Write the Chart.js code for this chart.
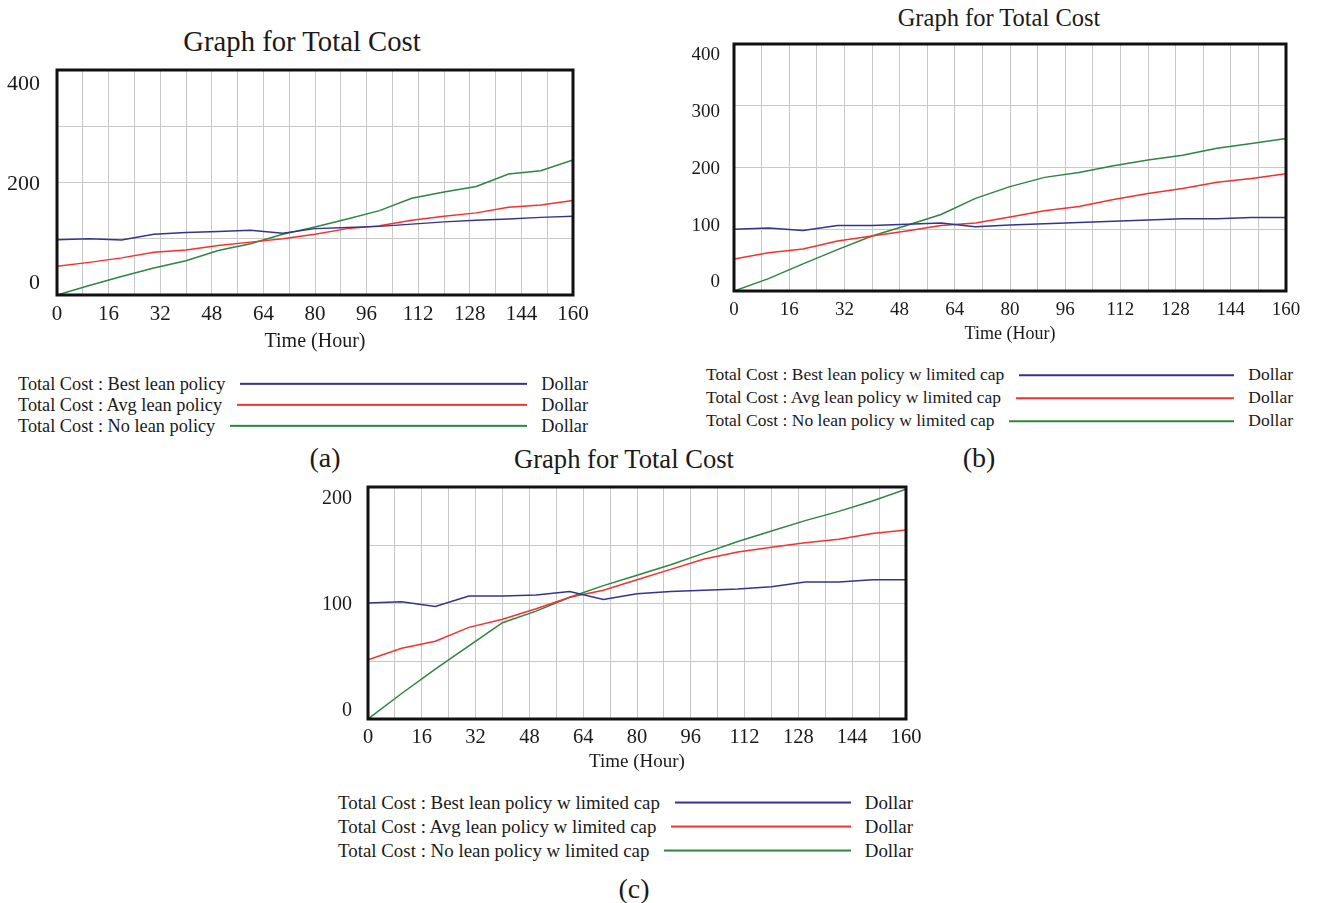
<!DOCTYPE html>
<html><head><meta charset="utf-8">
<script src="https://cdn.jsdelivr.net/npm/chart.js@4.4.0/dist/chart.umd.min.js"></script>
<style>
body{margin:0;width:1317px;height:903px;background:#fff;position:relative;overflow:hidden;font-family:"Liberation Serif","Times New Roman",serif;color:#1a1a1a}
canvas{position:absolute}
.t{position:absolute;white-space:nowrap;transform:translate(-50%,-50%);line-height:1}
.leg{position:absolute;display:flex;align-items:center;white-space:nowrap;line-height:1;transform:translateY(-50%)}
.leg .ln{flex:1;height:2px;margin:0 14px 0 15px}
</style></head>
<body>
<div class="t" style="left:302px;top:41px;font-size:28.7px">Graph for Total Cost</div>
<div class="t" style="left:999px;top:18px;font-size:24.5px">Graph for Total Cost</div>
<div class="t" style="left:624px;top:459px;font-size:26.6px">Graph for Total Cost</div>
<canvas id="ca" width="604" height="300" style="left:0px;top:60px"></canvas>
<canvas id="cb" width="633" height="320" style="left:684px;top:34px"></canvas>
<canvas id="cc" width="640" height="300" style="left:300px;top:477px"></canvas>
<div id="legA"></div><div id="legB"></div><div id="legC"></div>
<div class="t" style="left:325px;top:458px;font-size:28px">(a)</div>
<div class="t" style="left:979px;top:458px;font-size:28px">(b)</div>
<div class="t" style="left:634px;top:889px;font-size:28px">(c)</div>
<script>
const hours = [0,10,20,30,40,50,60,70,80,90,100,110,120,130,140,150,160];
const xTickLabels = ['0','16','32','48','64','80','96','112','128','144','160'];

// Chart (a)
const namesA = ['Total Cost : Best lean policy','Total Cost : Avg lean policy','Total Cost : No lean policy'];
const bestA = [98,100,98,108,111,113,115,110,118,120,122,126,130,133,135,138,140];
const avgA  = [51,58,66,76,80,88,94,100,108,118,123,133,140,146,156,160,168];
const noA   = [0,17,33,48,61,79,91,108,121,135,150,172,183,193,215,221,240];
const yLabelsA = [0,200,400];

// Chart (b)
const namesB = ['Total Cost : Best lean policy w limited cap','Total Cost : Avg lean policy w limited cap','Total Cost : No lean policy w limited cap'];
const bestB = [100,102,98,106,106,108,110,104,107,109,111,113,115,117,117,119,119];
const avgB  = [52,62,68,81,89,97,106,110,120,130,137,148,158,166,176,182,190];
const noB   = [0,20,44,67,89,106,124,150,169,184,192,203,212,220,231,239,247];
const yLabelsB = [0,100,200,300,400];

// Chart (c)
const namesC = namesB;
const bestC = [100,101,97,106,106,107,110,103,108,110,111,112,114,118,118,120,120];
const avgC  = [51,61,67,79,86,95,105,111,120,129,138,144,148,152,155,160,163];
const noC   = [0,22,43,63,83,93,105,115,124,133,143,153,162,171,179,188,198];
const yLabelsC = [0,100,200];

const colors = ['#34348f','#f53030','#2e8540'];
const unit = 'Dollar';
const FF = '"Liberation Serif","Times New Roman",serif';

const framePlugin = {
  id:'frame',
  afterDraw(chart){
    const {ctx, chartArea:a} = chart;
    const o = chart.options.plugins.vLabels;
    const ys = chart.scales.y;
    ctx.save();
    ctx.strokeStyle = '#111';
    ctx.lineWidth = 3;
    ctx.strokeRect(a.left, a.top, a.right-a.left, a.bottom-a.top);
    ctx.fillStyle = '#1a1a1a';
    ctx.font = o.size + 'px ' + FF;
    ctx.textAlign = 'right';
    ctx.textBaseline = 'middle';
    const H = a.bottom - a.top;
    o.values.forEach(v => {
      const frac = (ys.getPixelForValue(v) - a.top) / H;
      const y = a.top + o.inset + frac*(H - 2*o.inset) + 1.5;
      ctx.fillText(String(v), a.left - o.gap, y);
    });
    ctx.restore();
  }
};

function makeChart(id, cfg){
  return new Chart(document.getElementById(id), {
    type:'line',
    data:{datasets: cfg.series.map((vals,i)=>({
      label: cfg.names[i],
      data: hours.map((h,j)=>({x:h, y:vals[j]})),
      borderColor: colors[i], borderWidth:1.5, pointRadius:0, tension:0, fill:false
    }))},
    options:{
      responsive:false, animation:false,
      layout:{padding:cfg.pad},
      plugins:{legend:{display:false}, title:{display:false}, tooltip:{enabled:false},
        vLabels:{values:cfg.yLabels, size:cfg.yFont, gap:cfg.yGap, inset:cfg.yInset}},
      scales:{
        x:{type:'linear', min:0, max:160, border:{display:false},
           grid:{color:'#c8c8c8', lineWidth:1, drawTicks:false},
           ticks:{stepSize:8, autoSkip:false, maxRotation:0, padding:cfg.xPad, color:'#1a1a1a',
                  font:{family:FF, size:cfg.xFont, lineHeight:1.2},
                  callback:(v)=> xTickLabels.includes(String(v)) ? String(v) : ''},
           title:{display:true, text:'Time (Hour)', color:'#1a1a1a',
                  font:{family:FF, size:cfg.tFont, lineHeight:cfg.tLH}, padding:{top:0, bottom:0}}},
        y:{min:0, max:cfg.yMax, border:{display:false},
           grid:{color:'#c8c8c8', lineWidth:1, drawTicks:false},
           ticks:{stepSize:cfg.yStep, display:false}}
      }
    },
    plugins:[framePlugin]
  });
}

makeChart('ca', {names:namesA, series:[bestA,avgA,noA], yLabels:yLabelsA, yMax:400, yStep:100,
  pad:{left:57, right:31, top:10, bottom:11}, yFont:22, yGap:17, yInset:13, xFont:21, xPad:6.9, tFont:20, tLH:0.75});
makeChart('cb', {names:namesB, series:[bestB,avgB,noB], yLabels:yLabelsB, yMax:400, yStep:100,
  pad:{left:50, right:31, top:10, bottom:15}, yFont:19, yGap:14, yInset:10, xFont:19, xPad:8.1, tFont:18, tLH:0.5});
makeChart('cc', {names:namesC, series:[bestC,avgC,noC], yLabels:yLabelsC, yMax:200, yStep:50,
  pad:{left:68, right:34, top:10, bottom:8}, yFont:20, yGap:16, yInset:10, xFont:20.5, xPad:6.2, tFont:19, tLH:0.684});

function makeLegend(id, names, left, tops, width, size){
  const host = document.getElementById(id);
  names.forEach((n,i)=>{
    const row = document.createElement('div');
    row.className = 'leg';
    row.style.left = left+'px'; row.style.top = tops[i]+'px'; row.style.width = width+'px';
    row.style.fontSize = size+'px';
    const a = document.createElement('span'); a.textContent = n;
    const l = document.createElement('span'); l.className='ln'; l.style.background = colors[i];
    const u = document.createElement('span'); u.textContent = unit;
    row.append(a,l,u);
    host.appendChild(row);
  });
}
makeLegend('legA', namesA, 18, [384,405,426], 570, 18.3);
makeLegend('legB', namesB, 706, [375,398,421], 587, 17.5);
makeLegend('legC', namesC, 338, [803,827,851], 575, 18.9);
</script>
</body></html>
